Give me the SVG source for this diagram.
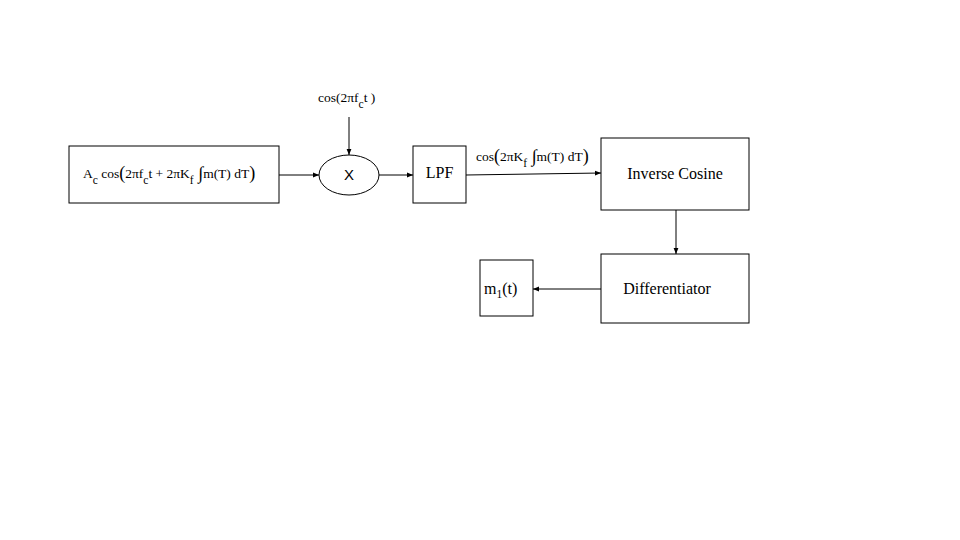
<svg xmlns="http://www.w3.org/2000/svg" width="960" height="540" viewBox="0 0 960 540">
<defs>
<style>
.b{fill:#fff;stroke:#000;stroke-width:1}
.t{font-family:"Liberation Serif","Times New Roman",serif;font-size:13.5px;fill:#000}
.L{font-size:16px}
.s{font-size:11.5px}
.big{font-size:18px}
.c{stroke:#000;stroke-width:1;fill:none}
</style>
<marker id="a" viewBox="0 0 10 10" refX="10" refY="5" markerWidth="6" markerHeight="6" orient="auto"><path d="M0,1 L10,5 L0,9 z" fill="#000"/></marker>
</defs>
<rect width="960" height="540" fill="#fff"/>
<g id="connectors">
<line class="c" x1="279" y1="175" x2="319" y2="175" marker-end="url(#a)"/>
<line class="c" x1="349" y1="117" x2="349" y2="155" marker-end="url(#a)"/>
<line class="c" x1="379" y1="175" x2="413" y2="175" marker-end="url(#a)"/>
<line class="c" x1="466" y1="175" x2="601" y2="173" marker-end="url(#a)"/>
<line class="c" x1="676" y1="210" x2="676" y2="254" marker-end="url(#a)"/>
<line class="c" x1="601" y1="289" x2="533" y2="289" marker-end="url(#a)"/>
</g>
<g id="input">
<rect class="b" x="69" y="146" width="210" height="57"/>
<text class="t" x="83" y="178">A<tspan class="s" dy="6">c</tspan><tspan dy="-6"> cos</tspan><tspan class="big" dy="1">(</tspan><tspan dy="-1">2πf</tspan><tspan class="s" dy="6">c</tspan><tspan dy="-6">t + 2πK</tspan><tspan class="s" dy="6">f</tspan><tspan class="big" dy="-5"> ∫</tspan><tspan dy="-1">m(T) dT</tspan><tspan class="big" dy="1">)</tspan></text>
</g>
<g id="carrier">
<text class="t" x="318" y="102">cos(2πf<tspan class="s" dy="6">c</tspan><tspan dy="-6">t )</tspan></text>
</g>
<g id="mixer">
<ellipse class="b" cx="349" cy="175" rx="30" ry="20"/>
<text x="349" y="180" text-anchor="middle" style="font-family:'Liberation Sans',Arial,sans-serif;font-size:15px">X</text>
</g>
<g id="lpf">
<rect class="b" x="413" y="146" width="53" height="57"/>
<text class="t L" x="439.5" y="178" text-anchor="middle">LPF</text>
</g>
<g id="lpf-label">
<text class="t" x="476" y="161">cos<tspan class="big" dy="1">(</tspan><tspan dy="-1">2πK</tspan><tspan class="s" dy="6">f</tspan><tspan class="big" dy="-5"> ∫</tspan><tspan dy="-1">m(T) dT</tspan><tspan class="big" dy="1">)</tspan></text>
</g>
<g id="inverse-cosine">
<rect class="b" x="601" y="138" width="148" height="72"/>
<text class="t L" x="675" y="179" text-anchor="middle">Inverse Cosine</text>
</g>
<g id="differentiator">
<rect class="b" x="601" y="254" width="148" height="69"/>
<text class="t L" x="667" y="294" text-anchor="middle">Differentiator</text>
</g>
<g id="output">
<rect class="b" x="480" y="260" width="53" height="56"/>
<text class="t L" x="484" y="294">m<tspan class="s" dy="4">1</tspan><tspan dy="-4">(t)</tspan></text>
</g>
</svg>
